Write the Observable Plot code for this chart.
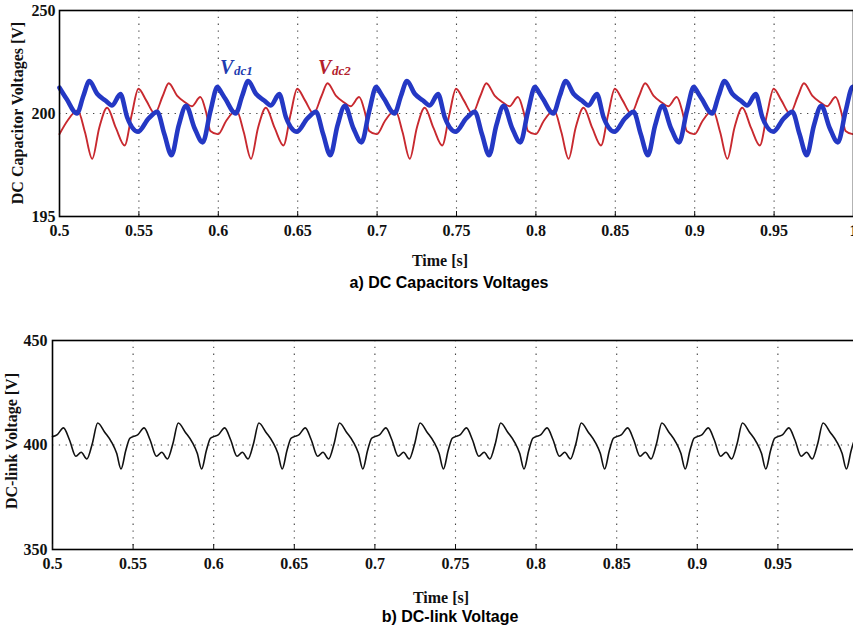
<!DOCTYPE html>
<html><head><meta charset="utf-8">
<script src="https://cdn.jsdelivr.net/npm/d3@7"></script>
<script src="https://cdn.jsdelivr.net/npm/@observablehq/plot@0.6"></script>
<style>
html,body{margin:0;padding:0;background:#fff;overflow:hidden;width:853px;height:630px;}
#wrap{position:relative;width:853px;height:630px;overflow:hidden;background:#fff;}
.panel{position:absolute;left:0;max-width:none !important;}
.ser{position:absolute;font-family:"Liberation Serif","Times New Roman",serif;font-weight:bold;font-size:16px;line-height:1;color:#111;white-space:nowrap;transform:translate(-50%,-50%);}
.rot{transform:translate(-50%,-50%) rotate(-90deg);}
.cap{position:absolute;font-family:"Liberation Sans",Arial,sans-serif;font-weight:bold;font-size:16px;line-height:1;color:#000;white-space:nowrap;transform:translate(-50%,-50%);}
</style></head><body><div id="wrap"></div>
<script>
// ---------- tick values / labels ----------
const timeTicks = [0.5,0.55,0.6,0.65,0.7,0.75,0.8,0.85,0.9,0.95,1];
const timeTickLabels = ["0.5","0.55","0.6","0.65","0.7","0.75","0.8","0.85","0.9","0.95","1"];
const linkTimeTicks = [0.5,0.55,0.6,0.65,0.7,0.75,0.8,0.85,0.9,0.95];
const gridTimes = [0.55,0.6,0.65,0.7,0.75,0.8,0.85,0.9,0.95];
const capTicks = [195,200,205];
const capTickLabels = ["195","200","250"];
const linkTicks = [350,400,450];
const linkTickLabels = ["350","400","450"];
const capRef = [200];
const linkRef = [400];

// ---------- Vdc1 (blue) ----------
const vdc1Time = [
0.5000,0.5045,0.5110,0.5150,0.5188,0.5237,0.5289,0.5331,0.5384,0.5426,0.5495,0.5560,0.5615,0.5660,0.5706,0.5750,0.5797,0.5850,0.5902,0.5950,0.5995,
0.6000,0.6045,0.6110,0.6150,0.6188,0.6237,0.6289,0.6331,0.6384,0.6426,0.6495,0.6560,0.6615,0.6660,0.6706,0.6750,0.6797,0.6850,0.6902,0.6950,0.6995,
0.7000,0.7045,0.7110,0.7150,0.7188,0.7237,0.7289,0.7331,0.7384,0.7426,0.7495,0.7560,0.7615,0.7660,0.7706,0.7750,0.7797,0.7850,0.7902,0.7950,0.7995,
0.8000,0.8045,0.8110,0.8150,0.8188,0.8237,0.8289,0.8331,0.8384,0.8426,0.8495,0.8560,0.8615,0.8660,0.8706,0.8750,0.8797,0.8850,0.8902,0.8950,0.8995,
0.9000,0.9045,0.9110,0.9150,0.9188,0.9237,0.9289,0.9331,0.9384,0.9426,0.9495,0.9560,0.9615,0.9660,0.9706,0.9750,0.9797,0.9850,0.9902,0.9950,0.9995,
1.0000];
const vdc1 = [
201.25,200.70,200.00,200.85,201.57,200.96,200.63,200.39,200.94,199.82,199.12,199.75,200.08,199.00,197.98,199.40,200.37,199.30,198.60,200.10,201.30,
201.25,200.70,200.00,200.85,201.57,200.96,200.63,200.39,200.94,199.82,199.12,199.75,200.08,199.00,197.98,199.40,200.37,199.30,198.60,200.10,201.30,
201.25,200.70,200.00,200.85,201.57,200.96,200.63,200.39,200.94,199.82,199.12,199.75,200.08,199.00,197.98,199.40,200.37,199.30,198.60,200.10,201.30,
201.25,200.70,200.00,200.85,201.57,200.96,200.63,200.39,200.94,199.82,199.12,199.75,200.08,199.00,197.98,199.40,200.37,199.30,198.60,200.10,201.30,
201.25,200.70,200.00,200.85,201.57,200.96,200.63,200.39,200.94,199.82,199.12,199.75,200.08,199.00,197.98,199.40,200.37,199.30,198.60,200.10,201.30,
201.25];

// ---------- Vdc2 (red) ----------
const vdc2Time = [
0.5000,0.5050,0.5115,0.5160,0.5206,0.5250,0.5300,0.5355,0.5410,0.5455,0.5497,0.5545,0.5600,0.5650,0.5688,0.5740,0.5790,0.5833,0.5887,0.5925,0.5950,0.5995,
0.6000,0.6050,0.6115,0.6160,0.6206,0.6250,0.6300,0.6355,0.6410,0.6455,0.6497,0.6545,0.6600,0.6650,0.6688,0.6740,0.6790,0.6833,0.6887,0.6925,0.6950,0.6995,
0.7000,0.7050,0.7115,0.7160,0.7206,0.7250,0.7300,0.7355,0.7410,0.7455,0.7497,0.7545,0.7600,0.7650,0.7688,0.7740,0.7790,0.7833,0.7887,0.7925,0.7950,0.7995,
0.8000,0.8050,0.8115,0.8160,0.8206,0.8250,0.8300,0.8355,0.8410,0.8455,0.8497,0.8545,0.8600,0.8650,0.8688,0.8740,0.8790,0.8833,0.8887,0.8925,0.8950,0.8995,
0.9000,0.9050,0.9115,0.9160,0.9206,0.9250,0.9300,0.9355,0.9410,0.9455,0.9497,0.9545,0.9600,0.9650,0.9688,0.9740,0.9790,0.9833,0.9887,0.9925,0.9950,0.9995,
1.0000];
const vdc2 = [
199.00,199.65,200.15,199.10,197.80,199.30,200.28,199.30,198.45,199.95,201.20,200.65,200.00,200.85,201.47,200.87,200.55,200.35,200.80,200.00,199.15,199.00,
199.00,199.65,200.15,199.10,197.80,199.30,200.28,199.30,198.45,199.95,201.20,200.65,200.00,200.85,201.47,200.87,200.55,200.35,200.80,200.00,199.15,199.00,
199.00,199.65,200.15,199.10,197.80,199.30,200.28,199.30,198.45,199.95,201.20,200.65,200.00,200.85,201.47,200.87,200.55,200.35,200.80,200.00,199.15,199.00,
199.00,199.65,200.15,199.10,197.80,199.30,200.28,199.30,198.45,199.95,201.20,200.65,200.00,200.85,201.47,200.87,200.55,200.35,200.80,200.00,199.15,199.00,
199.00,199.65,200.15,199.10,197.80,199.30,200.28,199.30,198.45,199.95,201.20,200.65,200.00,200.85,201.47,200.87,200.55,200.35,200.80,200.00,199.15,199.00,
199.00];

// ---------- DC-link voltage ----------
const linkTime = [
0.5000,0.5030,0.5068,0.5105,0.5145,0.5178,0.5213,0.5248,0.5280,0.5325,0.5367,0.5398,0.5425,0.5455,0.5480,
0.5500,0.5530,0.5568,0.5605,0.5645,0.5678,0.5713,0.5748,0.5780,0.5825,0.5867,0.5898,0.5925,0.5955,0.5980,
0.6000,0.6030,0.6068,0.6105,0.6145,0.6178,0.6213,0.6248,0.6280,0.6325,0.6367,0.6398,0.6425,0.6455,0.6480,
0.6500,0.6530,0.6568,0.6605,0.6645,0.6678,0.6713,0.6748,0.6780,0.6825,0.6867,0.6898,0.6925,0.6955,0.6980,
0.7000,0.7030,0.7068,0.7105,0.7145,0.7178,0.7213,0.7248,0.7280,0.7325,0.7367,0.7398,0.7425,0.7455,0.7480,
0.7500,0.7530,0.7568,0.7605,0.7645,0.7678,0.7713,0.7748,0.7780,0.7825,0.7867,0.7898,0.7925,0.7955,0.7980,
0.8000,0.8030,0.8068,0.8105,0.8145,0.8178,0.8213,0.8248,0.8280,0.8325,0.8367,0.8398,0.8425,0.8455,0.8480,
0.8500,0.8530,0.8568,0.8605,0.8645,0.8678,0.8713,0.8748,0.8780,0.8825,0.8867,0.8898,0.8925,0.8955,0.8980,
0.9000,0.9030,0.9068,0.9105,0.9145,0.9178,0.9213,0.9248,0.9280,0.9325,0.9367,0.9398,0.9425,0.9455,0.9480,
0.9500,0.9530,0.9568,0.9605,0.9645,0.9678,0.9713,0.9748,0.9780,0.9825,0.9867,0.9898,0.9925,0.9955,0.9980,
1.0000];
const linkV = [
404.0,405.0,408.2,402.5,394.6,396.5,393.3,401.0,410.5,406.0,401.3,396.0,388.5,397.5,403.2,
404.0,405.0,408.2,402.5,394.6,396.5,393.3,401.0,410.5,406.0,401.3,396.0,388.5,397.5,403.2,
404.0,405.0,408.2,402.5,394.6,396.5,393.3,401.0,410.5,406.0,401.3,396.0,388.5,397.5,403.2,
404.0,405.0,408.2,402.5,394.6,396.5,393.3,401.0,410.5,406.0,401.3,396.0,388.5,397.5,403.2,
404.0,405.0,408.2,402.5,394.6,396.5,393.3,401.0,410.5,406.0,401.3,396.0,388.5,397.5,403.2,
404.0,405.0,408.2,402.5,394.6,396.5,393.3,401.0,410.5,406.0,401.3,396.0,388.5,397.5,403.2,
404.0,405.0,408.2,402.5,394.6,396.5,393.3,401.0,410.5,406.0,401.3,396.0,388.5,397.5,403.2,
404.0,405.0,408.2,402.5,394.6,396.5,393.3,401.0,410.5,406.0,401.3,396.0,388.5,397.5,403.2,
404.0,405.0,408.2,402.5,394.6,396.5,393.3,401.0,410.5,406.0,401.3,396.0,388.5,397.5,403.2,
404.0,405.0,408.2,402.5,394.6,396.5,393.3,401.0,410.5,406.0,401.3,396.0,388.5,397.5,403.2,
404.0];

const seriesNames = ["V", "dc1", "dc2"];

// ---------- build tables ----------
const d1 = vdc1Time.map((t, i) => ({t, v: vdc1[i]}));
const d2 = vdc2Time.map((t, i) => ({t, v: vdc2[i]}));
const dl = linkTime.map((t, i) => ({t, v: linkV[i]}));

const BLUE = "#2438c4", RED = "#c8292f";
const serif = "'Liberation Serif','Times New Roman',serif";
const lab = (ticks, labels) => d => labels[ticks.indexOf(d)] ?? "";

const gridStyle = {stroke: "#444", strokeDasharray: "1.3,5.5", strokeWidth: 1.1};
const svgStyle = {fontFamily: serif, fontSize: "16px", fontWeight: "bold", color: "#111", background: "transparent", overflow: "visible", maxWidth: "none"};

const topPlot = Plot.plot({
  width: 870, height: 240,
  marginTop: 10, marginBottom: 24, marginLeft: 59, marginRight: 17,
  style: svgStyle,
  x: {domain: [0.5, 1]},
  y: {domain: [195, 205]},
  marks: [
    Plot.ruleX(gridTimes, gridStyle),
    Plot.ruleY(capRef, gridStyle),
    Plot.line(d2, {x: "t", y: "v", stroke: RED, strokeWidth: 1.9, curve: "monotone-x"}),
    Plot.line(d1, {x: "t", y: "v", stroke: BLUE, strokeWidth: 4.6, curve: "monotone-x", strokeLinejoin: "round"}),
    Plot.text([{t: 0.6010, v: 202.25}], {x: "t", y: "v", text: () => seriesNames[0], fill: "#1f3cb0", fontSize: 20, fontStyle: "italic", fontWeight: "bold", textAnchor: "start", lineAnchor: "middle"}),
    Plot.text([{t: 0.6010, v: 202.25}], {x: "t", y: "v", text: () => seriesNames[1], fill: "#1f3cb0", fontSize: 13, fontStyle: "italic", fontWeight: "bold", textAnchor: "start", lineAnchor: "middle", dx: 14, dy: 4}),
    Plot.text([{t: 0.6628, v: 202.25}], {x: "t", y: "v", text: () => seriesNames[0], fill: "#b3202c", fontSize: 20, fontStyle: "italic", fontWeight: "bold", textAnchor: "start", lineAnchor: "middle"}),
    Plot.text([{t: 0.6628, v: 202.25}], {x: "t", y: "v", text: () => seriesNames[2], fill: "#b3202c", fontSize: 13, fontStyle: "italic", fontWeight: "bold", textAnchor: "start", lineAnchor: "middle", dx: 14, dy: 4}),
    Plot.frame({stroke: "#000", strokeWidth: 1.6}),
    Plot.axisX({ticks: timeTicks, tickFormat: lab(timeTicks, timeTickLabels), tickSize: -5, tickPadding: 13, label: null}),
    Plot.axisY({ticks: capTicks, tickFormat: lab(capTicks, capTickLabels), tickSize: 0, tickPadding: 4, label: null})
  ]
});

const botPlot = Plot.plot({
  width: 870, height: 243,
  marginTop: 10, marginBottom: 24, marginLeft: 52, marginRight: 12,
  style: svgStyle,
  x: {domain: [0.5, 1]},
  y: {domain: [350, 450]},
  marks: [
    Plot.ruleX(gridTimes, gridStyle),
    Plot.ruleY(linkRef, gridStyle),
    Plot.line(dl, {x: "t", y: "v", stroke: "#111", strokeWidth: 1.6, curve: "monotone-x"}),
    Plot.frame({stroke: "#000", strokeWidth: 1.6}),
    Plot.axisX({ticks: linkTimeTicks, tickFormat: lab(timeTicks, timeTickLabels), tickSize: -5, tickPadding: 13, label: null}),
    Plot.axisY({ticks: linkTicks, tickFormat: lab(linkTicks, linkTickLabels), tickSize: 0, tickPadding: 5, label: null})
  ]
});

const wrap = document.getElementById("wrap");
for (const [p, top] of [[topPlot, 0], [botPlot, 330]]) {
  p.classList.add("panel");
  p.style.top = top + "px";
  p.style.maxWidth = "none";
  p.style.width = "870px";
  wrap.appendChild(p);
}

function addText(cls, txt, x, y) {
  const d = document.createElement("div");
  d.className = cls; d.textContent = txt;
  d.style.left = x + "px"; d.style.top = y + "px";
  wrap.appendChild(d);
}
addText("ser rot", "DC Capacitor Voltages [V]", 18, 113);
addText("ser rot", "DC-link Voltage [V]", 12, 441);
addText("ser", "Time [s]", 440, 261);
addText("cap", "a) DC Capacitors Voltages", 449, 283);
addText("ser", "Time [s]", 441, 598);
addText("cap", "b) DC-link Voltage", 450, 617);
</script></body></html>
